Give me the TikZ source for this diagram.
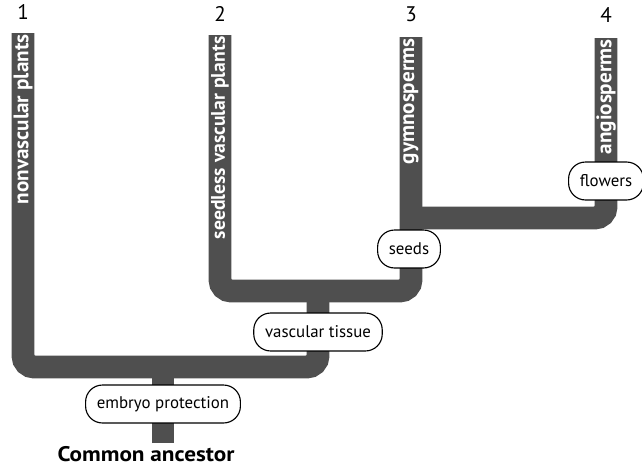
\documentclass[tikz,border=0pt]{standalone}
\usepackage{fontspec}
\setmainfont{PT Sans}
\usetikzlibrary{positioning}
\definecolor{branch}{HTML}{4F4F4F}

\begin{document}
\begin{tikzpicture}[x=0.025cm, y=-0.025cm,
  bar/.style={draw=branch, line width=16.3pt, rounded corners=8pt},
  trait/.style={draw, thick, fill=white, rounded corners=12pt, minimum height=27pt, inner xsep=8pt, font=\fontsize{12}{14}\selectfont},
  taxon/.style={rotate=90, anchor=east, text=white, inner sep=0pt, font=\bfseries\fontsize{15}{16}\selectfont},
  num/.style={font=\fontsize{15}{16}\selectfont}]
  \useasboundingbox (0,0) rectangle (642,467);

  % branch points
  \coordinate (root) at (163,443);
  \coordinate (top1) at (23,33);
  \coordinate (top2) at (220,35);
  \coordinate (top3) at (411,37);
  \coordinate (top4) at (606,38);
  \coordinate (low1) at (23,367);
  \coordinate (low1r) at (318,367);
  \coordinate (mid1) at (163,367);
  \coordinate (low2) at (220,291);
  \coordinate (low2r) at (411,291);
  \coordinate (mid2) at (318,291);
  \coordinate (low3) at (411,218);
  \coordinate (low3r) at (606,218);

  \draw[bar] (root) -- (mid1);
  \draw[bar] (top1) -- (low1) -- (low1r) -- (mid2);
  \draw[bar] (top2) -- (low2) -- (low2r) -- (top3);
  \draw[bar] (low3) -- (low3r) -- (top4);

  \node[taxon] (t1) at ([yshift=-1pt]top1) {nonvascular plants};
  \node[taxon, font=\bfseries\fontsize{14}{16}\selectfont] (t2) at ([yshift=-1pt]top2) {seedless vascular plants};
  \node[taxon] (t3) at ([yshift=-1pt]top3) {gymnosperms};
  \node[taxon] (t4) at ([yshift=-1pt]top4) {angiosperms};

  \node[num] (n1) at (23,12) {1};
  \node[num] (n2) at (220,14) {2};
  \node[num] (n3) at (411,14) {3};
  \node[num] (n4) at (606,15) {4};

  \node[trait] (embryo) at (163,404) {embryo protection};
  \node[trait] (vascular) at (318,332) {vascular tissue};
  \node[trait] (seeds) at (409,249) {seeds};
  \node[trait] (flowers) at (606,181) {flowers};

  \node[anchor=base, inner sep=0pt, font=\bfseries\fontsize{15}{17}\selectfont] (ancestor) at (146,461) {\scalebox{1.1}[1]{Common ancestor}};
\end{tikzpicture}
\end{document}
